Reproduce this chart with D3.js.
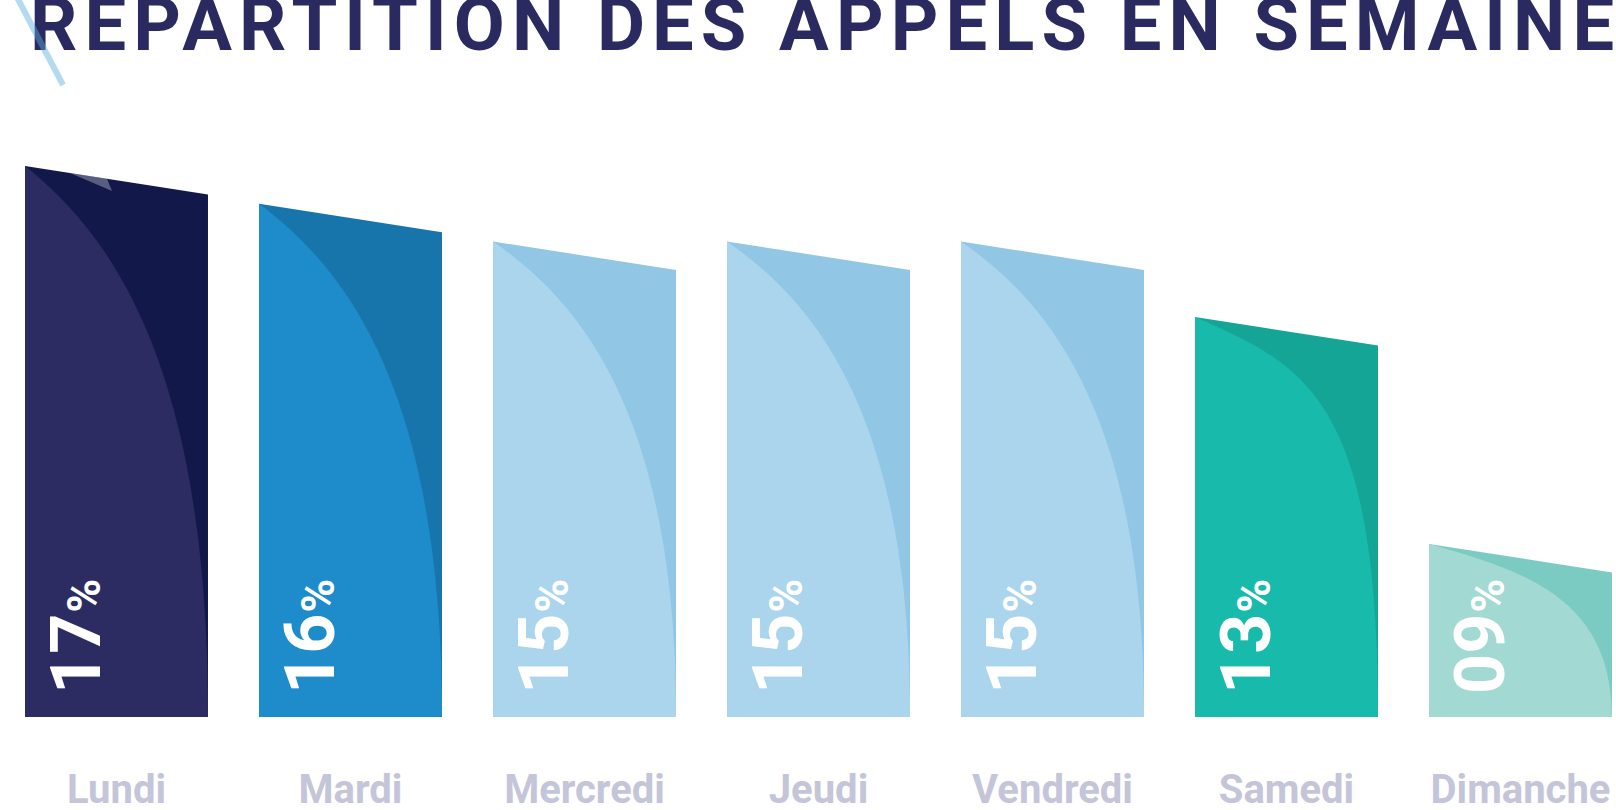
<!DOCTYPE html>
<html>
<head>
<meta charset="utf-8">
<script src="https://cdn.jsdelivr.net/npm/d3@7"></script>
<style>
  body { margin: 0; background: #fff; }
  svg { display: block; font-family: Roboto, "Noto Sans", sans-serif; }
</style>
</head>
<body>
<div id="chart"></div>
<script>
// data
var days = ["Lundi", "Mardi", "Mercredi", "Jeudi", "Vendredi", "Samedi", "Dimanche"];
var values = [17, 16, 15, 15, 15, 13, 9];
var title = "REPARTITION DES APPELS EN SEMAINE";

// styles
var baseColors = ["#2c2b62", "#1e8bcb", "#aad5ed", "#aad5ed", "#aad5ed", "#17baab", "#a3d9d3"];
var foldColors = ["#12184a", "#1775ab", "#91c6e5", "#91c6e5", "#91c6e5", "#14a597", "#7ccbc2"];
// curl control points (fractions of bar width / height)
var curls = [
  [0.45, 0.12, 1, 0.35],
  [0.45, 0.12, 1, 0.35],
  [0.45, 0.12, 1, 0.35],
  [0.45, 0.12, 1, 0.35],
  [0.45, 0.12, 1, 0.35],
  [0.6, 0.12, 1, 0.2],
  [0.5, 0.15, 1, 0.3]
];

var svgWidth = 1616;
var svgHeight = 810;
var baseY = 717;
var slant = 28.5;

var svg = d3.select("#chart")
  .append("svg")
  .attr("width", svgWidth)
  .attr("height", svgHeight);

var x = d3.scaleBand()
  .domain(days)
  .range([25, 1612])
  .paddingInner(0.218)
  .paddingOuter(0);

var y = d3.scaleLinear()
  .domain([9, 13, 17])
  .range([544, 317, 166]);

var bw = x.bandwidth();

var bars = svg.selectAll("g.bar")
  .data(days)
  .enter()
  .append("g")
  .attr("class", "bar");

// dark (folded) part = whole bar shape
bars.append("path")
  .attr("fill", (d, i) => foldColors[i])
  .attr("d", function(d, i) {
    var x0 = x(d), x1 = x0 + bw, top = y(values[i]);
    return `M${x0},${top}L${x1},${top + slant}L${x1},${baseY}L${x0},${baseY}Z`;
  });

// light part, left of the curl
bars.append("path")
  .attr("fill", (d, i) => baseColors[i])
  .attr("d", function(d, i) {
    var x0 = x(d), x1 = x0 + bw, top = y(values[i]);
    var h = baseY - top, c = curls[i];
    return `M${x0},${baseY}L${x0},${top}` +
      `C${x0 + c[0] * bw},${top + c[1] * h} ${x0 + c[2] * bw},${top + c[3] * h} ${x1},${baseY}Z`;
  });

// small highlight on the first bar's top edge
var x0a = x(days[0]), topA = y(values[0]), s = slant / bw;
svg.append("path")
  .attr("fill", "#fff")
  .attr("opacity", 0.3)
  .attr("d", `M${x0a + 45},${topA + 45 * s}L${x0a + 82},${topA + 82 * s}L${x0a + 87},${topA + 25}Z`);

// value labels, rotated
var fmt = d3.format("02d");
var labels = bars.append("text")
  .attr("transform", d => `translate(${x(d) + 75},${baseY - 23}) rotate(-90)`)
  .attr("fill", "#fff")
  .attr("font-weight", 700);

labels.append("tspan")
  .attr("font-size", 70)
  .text((d, i) => fmt(values[i]));

labels.append("tspan")
  .attr("font-size", 46)
  .attr("dx", 1)
  .text("%");

// day labels
svg.selectAll("text.day")
  .data(days)
  .enter()
  .append("text")
  .attr("class", "day")
  .attr("x", d => x(d) + bw / 2)
  .attr("y", 803)
  .attr("text-anchor", "middle")
  .attr("font-size", 40)
  .attr("font-weight", 700)
  .attr("fill", "#c4c5d8")
  .text(d => d);

// title
svg.append("text")
  .attr("x", 30)
  .attr("y", 49.5)
  .attr("font-size", 74)
  .attr("font-weight", 700)
  .attr("fill", "#2a2a60")
  .attr("textLength", 1584)
  .attr("lengthAdjust", "spacing")
  .text(title);

// decorative slash
svg.append("line")
  .attr("x1", 8).attr("y1", -20)
  .attr("x2", 63).attr("y2", 85)
  .attr("stroke", "#5aaee0")
  .attr("stroke-width", 6)
  .attr("opacity", 0.45);
</script>
</body>
</html>
